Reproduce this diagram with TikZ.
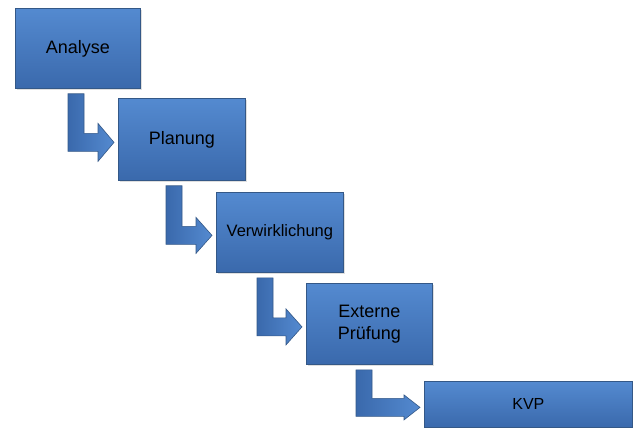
\documentclass[tikz,border=0pt]{standalone}
\usepackage{fontspec}
\setmainfont{Liberation Sans}
\usepackage{tikz}
\usetikzlibrary{calc,shadows}

\definecolor{boxtop}{RGB}{84,138,208}
\definecolor{boxbottom}{RGB}{58,105,172}
\definecolor{boxline}{RGB}{52,88,135}

% L-shaped block arrow from one step to the next: #1 from, #2 to, #3 x offset, #4 half head height
\newcommand{\stepArrow}[4]{%
	\path let \p1 = ($(#1.south west)+(#3,5)$), \p2 = ($(#2.west)+(-4,3)$) in
		[steparrow] (\x1,\y1) -- (\x1+16pt,\y1) -- (\x1+16pt,\y2+9pt) -- (\x2-16pt,\y2+9pt)
		-- (\x2-16pt,\y2+#4pt) -- (\x2,\y2) -- (\x2-16pt,\y2-#4pt) -- (\x2-16pt,\y2-9pt)
		-- (\x1,\y2-9pt) -- cycle;}

\begin{document}
\begin{tikzpicture}[x=1pt, y=-1pt,
		stepbox/.style={draw=boxline, line width=0.8pt, top color=boxtop, bottom color=boxbottom,
			drop shadow={opacity=0.25, shadow xshift=1.5pt, shadow yshift=-1.5pt},
			anchor=north west, inner sep=0pt, align=center, font=\fontsize{18}{22}\selectfont},
		steparrow/.style={draw=boxline, line width=0.6pt, left color=boxbottom, right color=boxtop}]
	\useasboundingbox (0,0) rectangle (633,428);

	\node[stepbox, minimum width=125pt, minimum height=80pt] (A) at (15,8)   {Analyse};
	\node[stepbox, minimum width=127pt, minimum height=82pt] (P) at (118,98) {Planung};
	\node[stepbox, minimum width=127pt, minimum height=80pt, font=\fontsize{16.5}{20}\selectfont] (V) at (216,192) {Verwirklichung};
	\node[stepbox, minimum width=126pt, minimum height=81pt] (E) at (306,283) {Externe\\Prüfung};
	\node[stepbox, minimum width=208pt, minimum height=46pt, font=\fontsize{16}{20}\selectfont] (K) at (424,381) {KVP};

	\stepArrow{A}{P}{53}{19}
	\stepArrow{P}{V}{48}{18}
	\stepArrow{V}{E}{41}{18}
	\stepArrow{E}{K}{50}{12.5}
\end{tikzpicture}
\end{document}
